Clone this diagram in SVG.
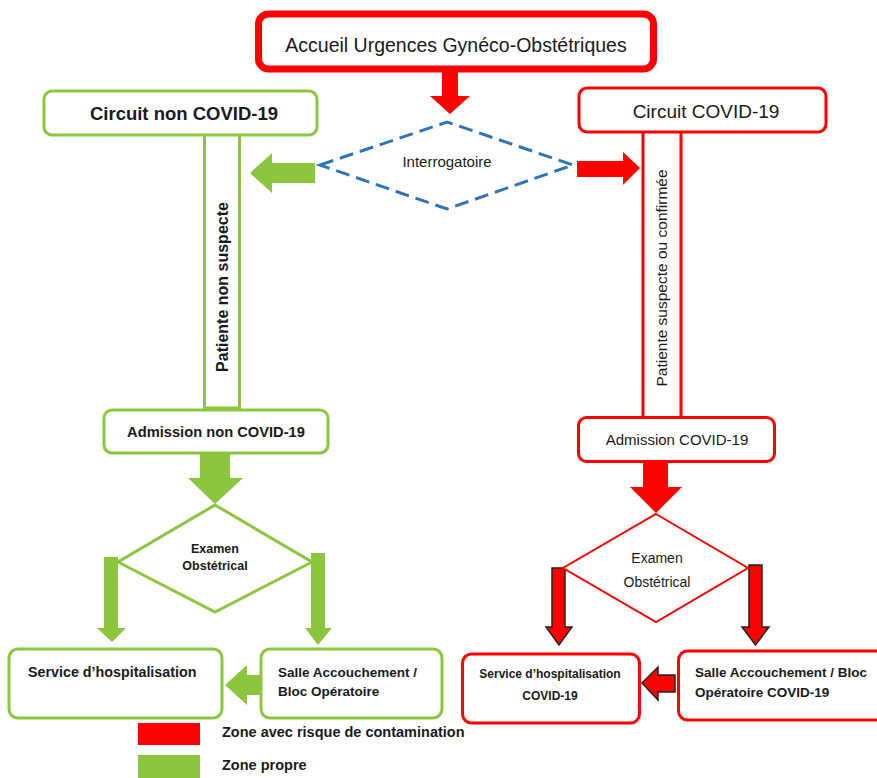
<svg xmlns="http://www.w3.org/2000/svg" width="877" height="778" viewBox="0 0 877 778">
<style>
text{font-family:"Liberation Sans",Arial,sans-serif;fill:#1a1a1a}
.b{font-weight:bold}
.g{fill:#fff;stroke:#8CC63F;stroke-width:3}
.r{fill:#fff;stroke:#FF0000;stroke-width:3}
.ga{fill:#8CC63F;stroke:none}
.ra{fill:#FF0000;stroke:none}
.rb{fill:#FF0000;stroke:#222;stroke-width:1.5}
</style>
<rect width="877" height="778" fill="#fff"/>
<g id="connectors">
  <polygon class="ra" points="442,72 458,72 458,96 470,96 450,114 430,96 442,96"/>
  <polygon class="ga" points="315,163 272,163 272,153 250,173 272,193 272,183 315,183"/>
  <polygon class="ra" points="577,161 623,161 623,152 640,168 623,185 623,177 577,177"/>
  <polygon class="ga" points="200,453 230,453 230,478 243,478 215,504 188,478 200,478"/>
  <polygon class="ra" points="643,462 668,462 668,487 682,487 656,513 630,487 643,487"/>
  <polygon class="ga" points="104,557 118,557 118,628 126,628 112,642 97,628 104,628"/>
  <polygon class="ga" points="311,553 325,553 325,628 332,628 318,645 305,628 311,628"/>
  <polygon class="ga" points="260,675 247,675 247,665 225,685 247,705 247,695 260,695"/>
  <polygon class="rb" points="552,568 565,568 565,627 572,627 559,645 546,627 552,627"/>
  <polygon class="rb" points="749,565 762,565 762,627 769,627 755.5,645 742,627 749,627"/>
  <polygon class="rb" points="675,675 658,675 658,667 642,683 658,700 658,692 675,692"/>
</g>
<g id="accueil">
  <rect x="258.5" y="14" width="395" height="55" rx="10" fill="#fff" stroke="#FF0000" stroke-width="7"/>
  <text x="456" y="52" font-size="19.5" text-anchor="middle">Accueil Urgences Gynéco-Obstétriques</text>
</g>
<g id="patiente-non-suspecte">
  <rect class="g" x="204.5" y="134" width="35" height="274"/>
  <text class="b" transform="translate(228,287) rotate(-90)" font-size="16" text-anchor="middle">Patiente non suspecte</text>
</g>
<g id="patiente-suspecte">
  <rect class="r" x="643" y="131" width="38" height="287"/>
  <text transform="translate(667,278) rotate(-90)" font-size="15.5" text-anchor="middle">Patiente suspecte ou confirmée</text>
</g>
<g id="circuit-non-covid">
  <rect class="g" x="44" y="91" width="273" height="44" rx="8"/>
  <text class="b" x="184" y="120" font-size="18.5" text-anchor="middle">Circuit non COVID-19</text>
</g>
<g id="circuit-covid">
  <rect class="r" x="579" y="88" width="247" height="44" rx="8"/>
  <text x="706" y="118" font-size="19" text-anchor="middle">Circuit COVID-19</text>
</g>
<g id="interrogatoire">
  <polygon points="320,165 447,122 573,165 447,209" fill="#fff" stroke="#2E75B6" stroke-width="3" stroke-dasharray="14,7"/>
  <text x="447" y="167" font-size="15" text-anchor="middle">Interrogatoire</text>
</g>
<g id="admission-non-covid">
  <rect class="g" x="104" y="410" width="224" height="43" rx="8"/>
  <text class="b" x="216" y="437" font-size="14.7" text-anchor="middle">Admission non COVID-19</text>
</g>
<g id="admission-covid">
  <rect class="r" x="578.5" y="417.5" width="196" height="44" rx="8"/>
  <text x="677" y="445" font-size="15" text-anchor="middle">Admission COVID-19</text>
</g>
<g id="examen-non-covid">
  <polygon class="g" points="215,505 312,562 215,612 118,562"/>
  <text class="b" x="215" y="553" font-size="12.5" text-anchor="middle">Examen</text>
  <text class="b" x="215" y="570" font-size="12.5" text-anchor="middle">Obstétrical</text>
</g>
<g id="examen-covid">
  <polygon points="656,514 748,568 656,622 563,568" fill="#fff" stroke="#FF0000" stroke-width="2"/>
  <text x="657" y="563" font-size="14" text-anchor="middle">Examen</text>
  <text x="657" y="587" font-size="14" text-anchor="middle">Obstétrical</text>
</g>
<g id="service-hospit">
  <rect class="g" x="9" y="649" width="213" height="69" rx="9"/>
  <text class="b" x="28" y="677" font-size="14.3">Service d’hospitalisation</text>
</g>
<g id="salle-accouchement">
  <rect class="g" x="261" y="649" width="181" height="69" rx="9"/>
  <text class="b" x="278" y="677" font-size="13.5">Salle Accouchement /</text>
  <text class="b" x="278" y="696" font-size="13.5">Bloc Opératoire</text>
</g>
<g id="service-hospit-covid">
  <rect class="r" x="462.5" y="654" width="177" height="69" rx="9"/>
  <text class="b" x="550" y="678" font-size="12" text-anchor="middle">Service d’hospitalisation</text>
  <text class="b" x="550" y="700" font-size="12" text-anchor="middle">COVID-19</text>
</g>
<g id="salle-accouchement-covid">
  <rect class="r" x="678.5" y="651" width="210" height="69" rx="9"/>
  <text class="b" x="695" y="677" font-size="13.5">Salle Accouchement / Bloc</text>
  <text class="b" x="695" y="697" font-size="13.5">Opératoire COVID-19</text>
</g>
<g id="legend">
  <rect x="138" y="723" width="62" height="22" fill="#FF0000"/>
  <rect x="138" y="755" width="62" height="23" fill="#8CC63F"/>
  <text class="b" x="222" y="737" font-size="14.5">Zone avec risque de contamination</text>
  <text class="b" x="222" y="770" font-size="14.5">Zone propre</text>
</g>
</svg>
